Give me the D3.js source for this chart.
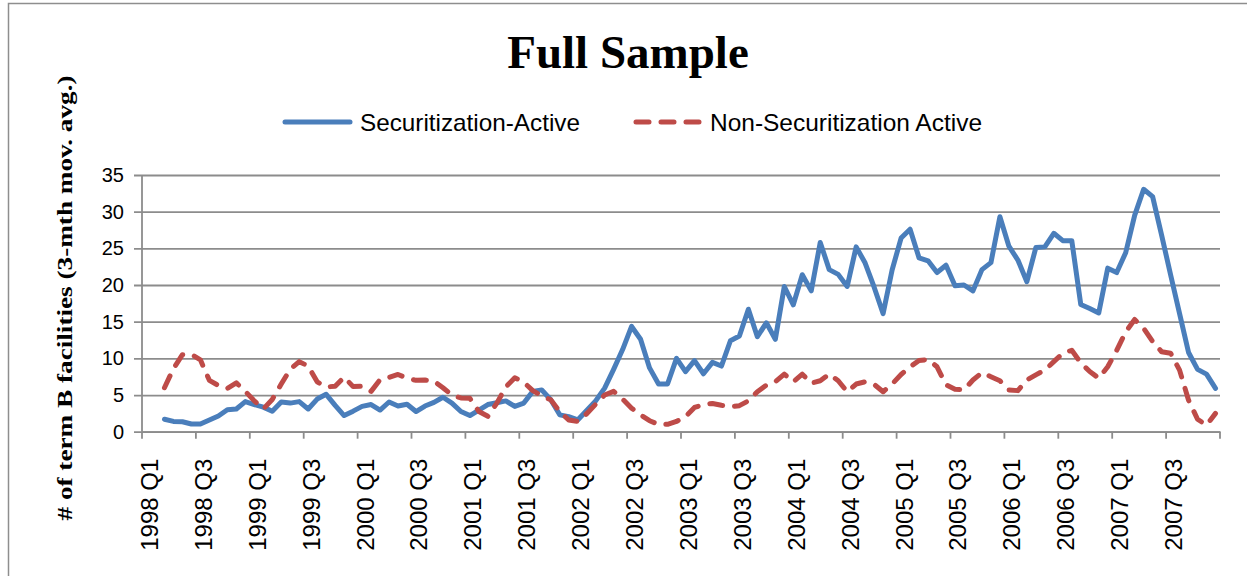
<!DOCTYPE html>
<html>
<head>
<meta charset="utf-8">
<script src="https://cdn.jsdelivr.net/npm/d3@7"></script>
<style>
  html, body { margin: 0; padding: 0; background: #fff; }
  svg { display: block; }
</style>
</head>
<body>
<svg id="chart" width="1247" height="576"></svg>
<script>
// ---- data ----
const years = [1998, 1999, 2000, 2001, 2002, 2003, 2004, 2005, 2006, 2007];
const months = ["01","02","03","04","05","06","07","08","09","10","11","12"];
const categories = years.flatMap(y => months.map(m => `${y}-${m}`));
const tickLabels = ["1998 Q1","1998 Q3","1999 Q1","1999 Q3","2000 Q1","2000 Q3","2001 Q1","2001 Q3","2002 Q1","2002 Q3",
                    "2003 Q1","2003 Q3","2004 Q1","2004 Q3","2005 Q1","2005 Q3","2006 Q1","2006 Q3","2007 Q1","2007 Q3"];
const yTicks = [0, 5, 10, 15, 20, 25, 30, 35];

const securitizationActive = [null, null, 1.7, 1.4, 1.35, 1.05, 1.05, 1.6, 2.15, 3.0, 3.1, 4.1, 3.7, 3.35, 2.8, 4.05, 3.9, 4.1, 3.1, 4.45,
  5.1, 3.6, 2.2, 2.8, 3.45, 3.7, 2.95, 4.05, 3.5, 3.75, 2.75, 3.5, 4.0, 4.7, 3.9, 2.75, 2.2, 2.95, 3.7, 3.95,
  4.2, 3.45, 3.9, 5.5, 5.7, 4.35, 2.3, 2.05, 1.6, 2.9, 4.2, 5.95, 8.5, 11.2, 14.35, 12.6, 8.7, 6.5, 6.5, 10.0,
  8.2, 9.7, 7.9, 9.45, 8.95, 12.4, 13.05, 16.7, 12.95, 14.85, 12.6, 19.8, 17.3, 21.4, 19.2, 25.8, 22.1, 21.45, 19.8, 25.2,
  23.0, 19.7, 16.1, 22.05, 26.4, 27.6, 23.7, 23.3, 21.7, 22.7, 19.9, 20.0, 19.2, 22.1, 23.05, 29.3, 25.3, 23.4, 20.45, 25.1,
  25.2, 27.05, 26.05, 26.05, 17.35, 16.8, 16.2, 22.3, 21.7, 24.4, 29.5, 33.05, 32.05, 26.8, 21.4, 16.1, 10.8, 8.5, 7.85, 5.9];

const nonSecuritizationActive = [null, null, 6.0, 8.6, 10.5, 10.55, 9.8, 7.0, 6.3, 5.9, 6.65, 5.5, 4.2, 3.1, 4.4, 6.5, 8.5, 9.55, 8.95, 6.8,
  6.1, 6.2, 7.45, 6.15, 6.2, 5.5, 7.1, 7.4, 7.8, 7.3, 7.0, 7.05, 6.9, 6.0, 5.0, 4.6, 4.55, 2.75, 2.1, 3.9,
  6.1, 7.35, 6.75, 5.6, 4.9, 4.35, 2.75, 1.6, 1.4, 2.45, 3.75, 5.0, 5.5, 4.45, 3.2, 2.3, 1.5, 1.0, 1.0, 1.4,
  2.05, 3.3, 3.7, 3.85, 3.6, 3.4, 3.55, 4.2, 5.45, 6.35, 6.8, 7.85, 6.8, 7.85, 6.6, 6.95, 7.85, 6.95, 5.45, 6.5,
  6.8, 6.45, 5.45, 6.5, 7.8, 8.85, 9.7, 9.85, 8.85, 6.4, 5.8, 5.7, 7.05, 8.05, 7.5, 6.95, 5.7, 5.6, 7.05, 7.75,
  8.4, 9.55, 10.7, 11.1, 9.4, 8.2, 7.3, 8.85, 11.1, 13.6, 15.3, 14.1, 12.3, 10.9, 10.7, 8.4, 4.3, 1.7, 0.9, 2.5];

const seriesNames = ["Securitization-Active", "Non-Securitization Active"];

// ---- layout ----
const svg = d3.select("#chart");
const plotLeft = 142, plotRight = 1220, plotTop = 175, plotBottom = 431.7;
const gridColor = "#8c8c8c";
const blueColor = "#4A7EBB";
const redColor = "#BE4B48";
const dashPattern = "13,12";

const x = d3.scaleBand().domain(categories).range([plotLeft, plotRight]).paddingInner(0).paddingOuter(0);
const y = d3.scaleLinear().domain([0, 35]).range([plotBottom, plotTop]);
const cx = c => x(c) + x.bandwidth() / 2;

// outer border
svg.append("rect").attr("x", 8.5).attr("y", 3.5).attr("width", 1400).attr("height", 700)
  .attr("fill", "none").attr("stroke", "#8e8e8e").attr("stroke-width", 1.5);

// title
svg.append("text").attr("x", 628).attr("y", 68).attr("text-anchor", "middle")
  .attr("font-family", "'Liberation Serif', 'Times New Roman', serif").attr("font-weight", "bold")
  .attr("font-size", 47).attr("fill", "#000").text("Full Sample");

// gridlines + y axis
const yAxis = d3.axisLeft(y).tickValues(yTicks).tickSize(plotRight - plotLeft + 8).tickFormat(d3.format("d")).tickPadding(10);
const gy = svg.append("g").attr("transform", `translate(${plotRight},0)`).call(yAxis);
gy.select(".domain").remove();
gy.selectAll(".tick line").attr("stroke", gridColor).attr("stroke-width", 1.8);
gy.selectAll(".tick text").attr("font-family", "'Liberation Sans', Arial, sans-serif").attr("font-size", 20).attr("fill", "#000");

// y axis line
svg.append("line").attr("x1", plotLeft).attr("x2", plotLeft).attr("y1", plotTop).attr("y2", plotBottom)
  .attr("stroke", gridColor).attr("stroke-width", 1.8);

// x axis
const tickCats = categories.filter((c, i) => i % 6 === 0);
const xAxis = d3.axisBottom(x).tickValues(tickCats).tickSize(0).tickFormat((d, i) => tickLabels[i]);
const gx = svg.append("g").attr("transform", `translate(0,${plotBottom})`).call(xAxis);
gx.select(".domain").attr("stroke", gridColor).attr("stroke-width", 1.8);
gx.selectAll(".tick").each(function(d) {
  d3.select(this).attr("transform", `translate(${cx(d) + 3},0)`);
});
gx.selectAll(".tick text")
  .attr("font-family", "'Liberation Sans', Arial, sans-serif").attr("font-size", 24).attr("fill", "#000")
  .attr("transform", "rotate(-90)").attr("text-anchor", "end").attr("dominant-baseline", "central")
  .attr("x", -27).attr("y", 0).attr("dy", null);

// tick marks at category boundaries every 6 months, plus the axis end
const boundaries = tickCats.map(c => x(c)).concat([plotRight]);
svg.append("g").selectAll("line").data(boundaries).join("line")
  .attr("x1", d => d).attr("x2", d => d).attr("y1", plotBottom).attr("y2", plotBottom + 7)
  .attr("stroke", gridColor).attr("stroke-width", 1.8);

// lines
const line = d3.line().defined(d => d.v != null).x(d => cx(d.c)).y(d => y(d.v));
const blueData = categories.map((c, i) => ({ c, v: securitizationActive[i] }));
const redData = categories.map((c, i) => ({ c, v: nonSecuritizationActive[i] }));

svg.append("path").datum(blueData).attr("d", line).attr("fill", "none")
  .attr("stroke", blueColor).attr("stroke-width", 5).attr("stroke-linejoin", "round").attr("stroke-linecap", "round");
svg.append("path").datum(redData).attr("d", line).attr("fill", "none")
  .attr("stroke", redColor).attr("stroke-width", 5).attr("stroke-linejoin", "round").attr("stroke-linecap", "round")
  .attr("stroke-dasharray", dashPattern);

// legend
const lg = svg.append("g");
lg.append("line").attr("x1", 285).attr("x2", 350).attr("y1", 122).attr("y2", 122)
  .attr("stroke", blueColor).attr("stroke-width", 5).attr("stroke-linecap", "round");
lg.append("text").attr("x", 360).attr("y", 131).attr("font-family", "'Liberation Sans', Arial, sans-serif")
  .attr("font-size", 24).attr("fill", "#000").attr("textLength", 220).attr("lengthAdjust", "spacingAndGlyphs")
  .text(seriesNames[0]);
lg.append("line").attr("x1", 636).attr("x2", 700).attr("y1", 122).attr("y2", 122)
  .attr("stroke", redColor).attr("stroke-width", 5).attr("stroke-linecap", "round").attr("stroke-dasharray", dashPattern);
lg.append("text").attr("x", 710).attr("y", 131).attr("font-family", "'Liberation Sans', Arial, sans-serif")
  .attr("font-size", 24).attr("fill", "#000").attr("textLength", 272).attr("lengthAdjust", "spacingAndGlyphs")
  .text(seriesNames[1]);

// y axis title
svg.append("text").attr("transform", "translate(72,298) rotate(-90)").attr("text-anchor", "middle")
  .attr("font-family", "'Liberation Serif', 'Times New Roman', serif").attr("font-weight", "bold")
  .attr("font-size", 22).attr("fill", "#000")
  .attr("textLength", 445).attr("lengthAdjust", "spacingAndGlyphs")
  .text("# of term B facilities (3-mth mov. avg.)");
</script>
</body>
</html>
